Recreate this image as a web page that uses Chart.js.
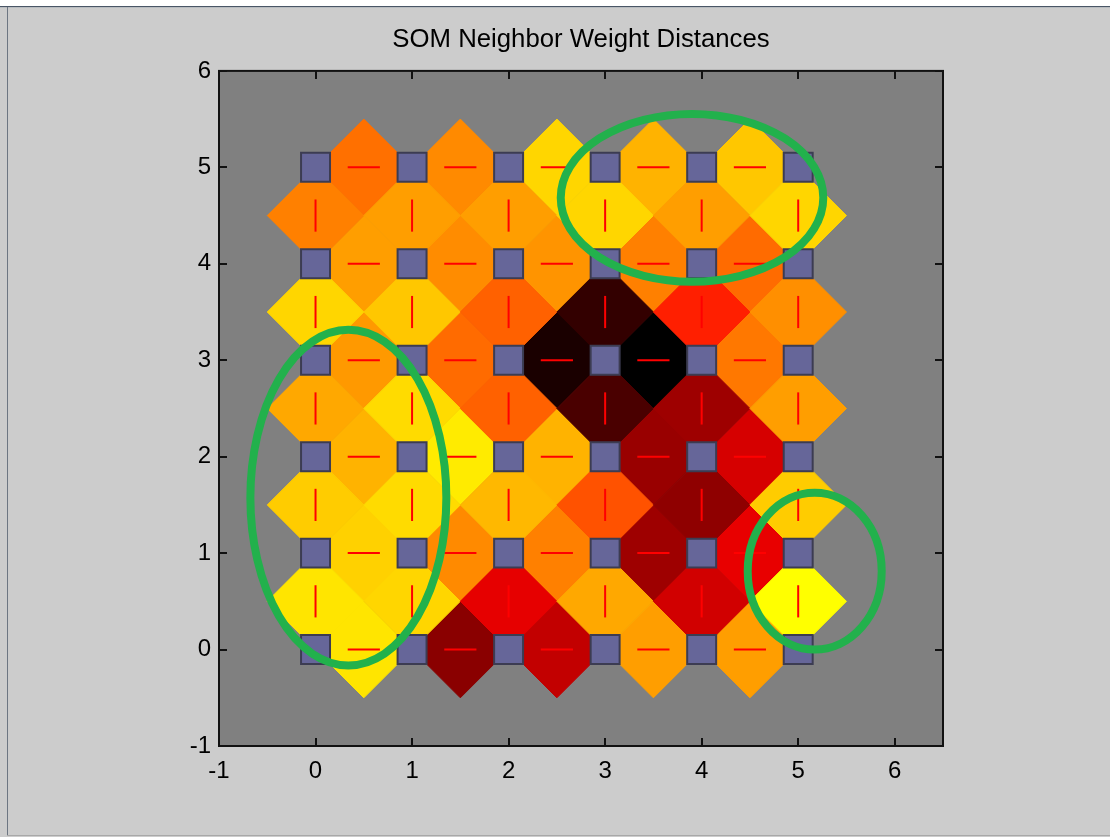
<!DOCTYPE html>
<html><head><meta charset="utf-8">
<script src="https://cdn.jsdelivr.net/npm/chart.js@4.4.1/dist/chart.umd.min.js"></script>
<style>
html,body{margin:0;padding:0;background:#cccccc;overflow:hidden}
#wrap{position:relative;width:1110px;height:837px}
canvas{display:block}
</style></head><body>
<div id="wrap"><canvas id="c" width="1110" height="837"></canvas></div>
<script>
const titleText = 'SOM Neighbor Weight Distances';
const gridCols = [0, 1, 2, 3, 4, 5];
const gridRows = [0, 1, 2, 3, 4, 5];
const xTickValues = [-1, 0, 1, 2, 3, 4, 5, 6];
const yTickValues = [-1, 0, 1, 2, 3, 4, 5, 6];
// colour level of each horizontal link (row y, neuron x to x+1): 1 = yellow (close), 0 = black (far)
const hLinkLevel = [
  [0.95, 0.27, 0.38, 0.81, 0.81],   // y = 0
  [0.91, 0.77, 0.75, 0.31, 0.455],  // y = 1
  [0.85, 0.96, 0.85, 0.30, 0.42],   // y = 2
  [0.80, 0.71, 0.05, 0.00, 0.735],  // y = 3
  [0.81, 0.775, 0.79, 0.75, 0.71],  // y = 4
  [0.72, 0.77, 0.92, 0.85, 0.89]    // y = 5
];
// colour level of each vertical link (column x, neuron y to y+1)
const vLinkLevel = [
  [0.95, 0.92, 0.45, 0.83, 0.41, 1.00], // y 0-1
  [0.90, 0.93, 0.86, 0.66, 0.28, 0.90], // y 1-2
  [0.83, 0.93, 0.69, 0.145, 0.31, 0.81],// y 2-3
  [0.92, 0.89, 0.69, 0.10, 0.56, 0.78], // y 3-4
  [0.75, 0.81, 0.81, 0.92, 0.81, 0.92]  // y 4-5
];
// hand-drawn green ellipses (data units)
const ellipseCx = [3.90, 0.34, 5.171];
const ellipseCy = [4.684, 1.575, 0.813];
const ellipseRx = [1.36, 1.015, 0.694];
const ellipseRy = [0.87, 1.74, 0.813];

function hot(t) {
  const r = Math.min(1, t * 2), g = Math.max(0, Math.min(1, t * 2 - 1));
  return `rgb(${Math.round(r * 255)},${Math.round(g * 255)},0)`;
}

const diamondPts = [], diamondCols = [], hLinePts = [], vLinePts = [], neuronPts = [];
gridRows.forEach((y, yi) => {
  hLinkLevel[yi].forEach((lv, xi) => {
    diamondPts.push({x: gridCols[xi] + 0.5, y}); diamondCols.push(hot(lv));
    hLinePts.push({x: gridCols[xi] + 0.5, y});
  });
});
vLinkLevel.forEach((row, yi) => {
  row.forEach((lv, xi) => {
    diamondPts.push({x: gridCols[xi], y: gridRows[yi] + 0.5}); diamondCols.push(hot(lv));
    vLinePts.push({x: gridCols[xi], y: gridRows[yi] + 0.5});
  });
});
gridRows.forEach(y => gridCols.forEach(x => neuronPts.push({x, y})));

const unitX = c => c.scales.x.getPixelForValue(1) - c.scales.x.getPixelForValue(0);
const FONT = '"Liberation Sans", Arial, Helvetica, sans-serif';

const framePlugin = {
  id: 'frame',
  beforeDraw(chart) {
    const {ctx, width, height, chartArea: a} = chart;
    ctx.save();
    ctx.fillStyle = '#cccccc'; ctx.fillRect(0, 0, width, height);
    ctx.fillStyle = '#ffffff'; ctx.fillRect(0, 0, width, 6);
    ctx.fillStyle = '#4a5666'; ctx.fillRect(0, 6, width, 1);
    ctx.fillStyle = '#b8bcc0'; ctx.fillRect(0, 7, width, 1);
    ctx.fillStyle = '#6d7682'; ctx.fillRect(7, 7, 1, height - 9);
    ctx.fillStyle = '#a8a8a8'; ctx.fillRect(7, height - 2, width - 7, 1);
    ctx.fillStyle = '#808080'; ctx.fillRect(a.left, a.top, a.right - a.left, a.bottom - a.top);
    ctx.restore();
  },
  afterDatasetsDraw(chart) {
    const {ctx} = chart, sx = chart.scales.x, sy = chart.scales.y;
    const ux = unitX(chart), uy = sy.getPixelForValue(0) - sy.getPixelForValue(1);
    ctx.save();
    ctx.strokeStyle = '#22b14c'; ctx.lineWidth = 8;
    ellipseCx.forEach((cx, i) => {
      ctx.beginPath();
      ctx.ellipse(sx.getPixelForValue(cx), sy.getPixelForValue(ellipseCy[i]), ellipseRx[i] * ux, ellipseRy[i] * uy, 0, 0, Math.PI * 2);
      ctx.stroke();
    });
    ctx.restore();
  },
  afterDraw(chart) {
    const {ctx, chartArea: a} = chart, sx = chart.scales.x, sy = chart.scales.y;
    ctx.save();
    ctx.strokeStyle = '#111'; ctx.lineWidth = 2;
    ctx.strokeRect(a.left, a.top, a.right - a.left, a.bottom - a.top);
    ctx.beginPath();
    const tl = 8;
    sx.ticks.forEach(t => { const p = Math.round(sx.getPixelForValue(t.value)); ctx.moveTo(p, a.bottom); ctx.lineTo(p, a.bottom - tl); ctx.moveTo(p, a.top); ctx.lineTo(p, a.top + tl); });
    sy.ticks.forEach(t => { const p = Math.round(sy.getPixelForValue(t.value)); ctx.moveTo(a.left, p); ctx.lineTo(a.left + tl, p); ctx.moveTo(a.right, p); ctx.lineTo(a.right - tl, p); });
    ctx.stroke();
    ctx.restore();
  }
};

new Chart(document.getElementById('c'), {
  type: 'scatter',
  data: {
    datasets: [
      { label: 'links', data: diamondPts, order: 3, pointStyle: 'rectRot',
        backgroundColor: diamondCols, borderColor: diamondCols, borderWidth: 1,
        pointRadius: c => unitX(c.chart) * 0.5, clip: false },
      { label: 'hlines', data: hLinePts, order: 2, pointStyle: 'line', pointRotation: 0,
        borderColor: '#ff0000', backgroundColor: '#ff0000', borderWidth: 2,
        pointRadius: c => unitX(c.chart) / 6 },
      { label: 'vlines', data: vLinePts, order: 2, pointStyle: 'line', pointRotation: 90,
        borderColor: '#ff0000', backgroundColor: '#ff0000', borderWidth: 2,
        pointRadius: c => unitX(c.chart) / 6 },
      { label: 'neurons', data: neuronPts, order: 1, pointStyle: 'rect',
        backgroundColor: '#666699', borderColor: '#3c3c52', borderWidth: 2,
        pointRadius: c => unitX(c.chart) * 0.3 / Math.SQRT2 }
    ]
  },
  options: {
    responsive: false, animation: false, events: [],
    layout: { padding: { left: 0, right: 167, top: 0, bottom: 0 } },
    plugins: {
      legend: { display: false }, tooltip: { enabled: false },
      title: { display: true, text: titleText, fullSize: false, color: '#000',
        font: { family: FONT, size: 25.75, weight: 'normal', lineHeight: 1.2 },
        padding: { top: 24, bottom: 16 } }
    },
    scales: {
      x: { type: 'linear', min: -1, max: 6.5,
        afterBuildTicks: s => { s.ticks = xTickValues.map(v => ({ value: v })); },
        afterFit: s => { s.height = 91; },
        grid: { display: false, drawTicks: false }, border: { display: false },
        ticks: { color: '#000', padding: 11, autoSkip: false, maxRotation: 0, font: { family: FONT, size: 24 } } },
      y: { type: 'linear', min: -1, max: 6,
        afterBuildTicks: s => { s.ticks = yTickValues.map(v => ({ value: v })); },
        afterFit: s => { s.width = 219; },
        grid: { display: false, drawTicks: false }, border: { display: false },
        ticks: { color: '#000', padding: 8, autoSkip: false, font: { family: FONT, size: 24 } } }
    }
  },
  plugins: [framePlugin]
});
</script>
</body></html>
